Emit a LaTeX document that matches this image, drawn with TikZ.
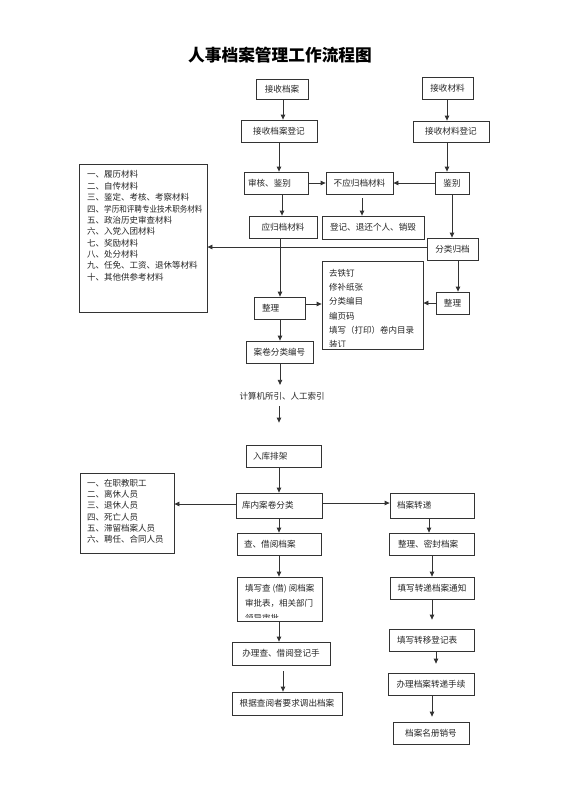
\documentclass[tikz,border=0pt]{standalone}
\usepackage{fontspec}
\usepackage{graphicx}
\setmainfont{Noto Sans CJK SC}
\usetikzlibrary{arrows.meta}
\begin{document}
\begin{tikzpicture}[x=1pt,y=-1pt,
  box/.style={draw=black!80, line width=0.8pt, inner sep=0pt, font=\fontsize{8.6}{10}\selectfont, text=black!85},
  arr/.style={draw=black!80, line width=0.8pt, -{Triangle[length=5pt,width=4.5pt]}},
  txt/.style={inner sep=0pt, font=\fontsize{8.5}{10}\selectfont, text=black!85},
  lst/.style={inner sep=0pt, anchor=west, font=\fontsize{8.5}{10}\selectfont, text=black!85}]
\useasboundingbox[fill=white] (0,0) rectangle (560,792);

\node[inner sep=0pt, font=\fontsize{16.7}{18}\selectfont\bfseries] (title) at (280,55) {人事档案管理工作流程图};

% top-left column
\node[box, minimum width=52pt, minimum height=20pt] (jsda) at (282,89) {接收档案};
\node[box, minimum width=76pt, minimum height=22pt] (jsdadj) at (279,131) {接收档案登记};
\node[box, minimum width=51pt, minimum height=22pt] (jscl) at (447.5,88) {接收材料};
\node[box, minimum width=76pt, minimum height=21pt] (jscldj) at (451,131.5) {接收材料登记};
\node[box, minimum width=64pt, minimum height=22pt, text width=56pt, inner xsep=4pt, align=left] (shjb) at (276,183) {审核、鉴别};
\node[box, minimum width=67pt, minimum height=22pt] (bygd) at (359.5,183) {不应归档材料};
\node[box, minimum width=34pt, minimum height=22pt] (jb) at (452,183) {鉴别};
\node[box, minimum width=68pt, minimum height=22pt] (ygd) at (283,227) {应归档材料};
\node[box, minimum width=102pt, minimum height=23pt] (djth) at (373,227.5) {登记、退还个人、销毁};
\node[box, minimum width=51pt, minimum height=22pt] (flgd) at (452.5,249) {分类归档};

% list 1
\node[box, minimum width=128pt, minimum height=148pt] (list1) at (143,238) {};
\foreach \t [count=\i] in {一、履历材料,二、自传材料,三、鉴定、考核、考察材料,{四、\scalebox{0.89}[1]{学历和评聘专业技术职务材料}},五、政治历史审查材料,六、入党入团材料,七、奖励材料,八、处分材料,九、任免、工资、退休等材料,十、其他供参考材料}
  \node[lst] (la\i) at (87,{174.7+(\i-1)*11.35}) {\t};

\node[box, minimum width=51pt, minimum height=22pt, text width=35pt, inner xsep=8pt, align=left] (zl) at (279.5,308) {整理};
\node[box, minimum width=101pt, minimum height=88pt] (steps) at (372.5,305) {};
\begin{scope}
  \clip (steps.north west) rectangle ([yshift=3pt]steps.south east);
  \foreach \t [count=\i] in {去铁钉,修补纸张,分类编目,编页码,填写（打印）卷内目录,装订}
    \node[lst] (st\i) at (329,{273+(\i-1)*14.3}) {\t};
\end{scope}
\node[box, minimum width=33pt, minimum height=22pt] (zl2) at (452.5,303) {整理};
\node[box, minimum width=67pt, minimum height=22pt] (ajflbh) at (279.5,352) {案卷分类编号};
\node[txt] (idx) at (282,396) {计算机所引、人工索引};
\node[box, minimum width=75pt, minimum height=22pt, text width=61pt, inner xsep=7pt, align=left] (rkpj) at (283.5,456) {入库排架};
\node[box, minimum width=86pt, minimum height=25pt, text width=74pt, inner xsep=6pt, align=left] (knfl) at (279,505.5) {库内案卷分类};

% list 2
\node[box, minimum width=94pt, minimum height=80pt] (list2) at (127,513) {};
\foreach \t [count=\i] in {一、在职教职工,二、离休人员,三、退休人员,四、死亡人员,五、滞留档案人员,六、聘任、合同人员}
  \node[lst] (lb\i) at (87,{483+(\i-1)*11.3}) {\t};

% lower left column
\node[box, minimum width=84pt, minimum height=22pt, text width=70pt, inner xsep=7pt, align=left] (cjyda) at (279,544) {查、借阅档案};
\node[box, minimum width=85pt, minimum height=44pt] (txcj) at (279.5,599) {};
\begin{scope}
  \clip (txcj.north west) rectangle ([yshift=4pt]txcj.south east);
  \foreach \t [count=\i] in {填写查 (借) 阅档案,审批表，相关部门,领导审批}
    \node[lst] (tc\i) at (245,{589+(\i-1)*14.5}) {\t};
\end{scope}
\node[box, minimum width=98pt, minimum height=23pt] (blcj) at (281,653.5) {办理查、借阅登记手};
\node[box, minimum width=110pt, minimum height=23pt] (dcda) at (287,703.5) {根据查阅者要求调出档案};

% lower right column
\node[box, minimum width=84pt, minimum height=25pt, text width=70pt, inner xsep=7pt, align=left] (zdda) at (432,505.5) {档案转递};
\node[box, minimum width=85pt, minimum height=22pt, text width=67pt, inner xsep=9pt, align=left] (mfda) at (431.5,544) {整理、密封档案};
\node[box, minimum width=84pt, minimum height=22pt] (tzzd) at (432,588) {填写转递档案通知};
\node[box, minimum width=85pt, minimum height=22pt, text width=69pt, inner xsep=8pt, align=left] (djb) at (431.5,640) {填写转移登记表};
\node[box, minimum width=86pt, minimum height=22pt] (blzd) at (431,684) {办理档案转递手续};
\node[box, minimum width=76pt, minimum height=22pt] (xh) at (431,733) {档案名册销号};

% connectors
\draw[arr] (jsda.south -| 283,0) -- (jsdadj.north -| 283,0);
\draw[arr] (jsdadj.south -| 279,0) -- (shjb.north -| 279,0);
\draw[arr] (jscl.south -| 447,0) -- (jscldj.north -| 447,0);
\draw[arr] (jscldj.south -| 447,0) -- (jb.north -| 447,0);
\draw[arr] (shjb.east) -- (bygd.west);
\draw[arr] (jb.west) -- (bygd.east);
\draw[arr] (shjb.south -| 282,0) -- (ygd.north -| 282,0);
\draw[arr, shorten <=4pt] (bygd.south -| 362,0) -- (djth.north -| 362,0);
\draw[arr] (jb.south -| 452,0) -- (flgd.north -| 452,0);
\draw[arr] (flgd.west |- 0,247) -- (list1.east |- 0,247);
\draw[arr] (ygd.south -| 280,0) -- (zl.north -| 280,0);
\draw[arr] (flgd.south -| 458,0) -- (zl2.north -| 458,0);
\draw[arr] (zl.east |- 0,304) -- (steps.west |- 0,304);
\draw[arr] (zl2.west |- 0,303) -- (steps.east |- 0,303);
\draw[arr] (zl.south -| 280,0) -- (ajflbh.north -| 280,0);
\draw[arr, shorten >=7pt] (ajflbh.south -| 280,0) -- (idx.north -| 280,0);
\draw[arr, shorten <=6pt, shorten >=22pt] (idx.south -| 279,0) -- (rkpj.north -| 279,0);
\draw[arr] (rkpj.south -| 279,0) -- (knfl.north -| 279,0);
\draw[arr] (knfl.west |- 0,504) -- (list2.east |- 0,504);
\draw[arr] (knfl.east |- 0,503) -- (zdda.west |- 0,503);
\draw[arr] (knfl.south -| 279,0) -- (cjyda.north -| 279,0);
\draw[arr] (cjyda.south -| 279,0) -- (txcj.north -| 279,0);
\draw[arr] (txcj.south -| 279,0) -- (blcj.north -| 279,0);
\draw[arr, shorten <=6pt] (blcj.south -| 283,0) -- (dcda.north -| 283,0);
\draw[arr] (zdda.south -| 429,0) -- (mfda.north -| 429,0);
\draw[arr] (mfda.south -| 432,0) -- (tzzd.north -| 432,0);
\draw[arr, shorten >=9pt] (tzzd.south -| 432,0) -- (djb.north -| 432,0);
\draw[arr, shorten >=9pt] (djb.south -| 436,0) -- (blzd.north -| 436,0);
\draw[arr, shorten >=5pt] (blzd.south -| 432,0) -- (xh.north -| 432,0);
\end{tikzpicture}
\end{document}
